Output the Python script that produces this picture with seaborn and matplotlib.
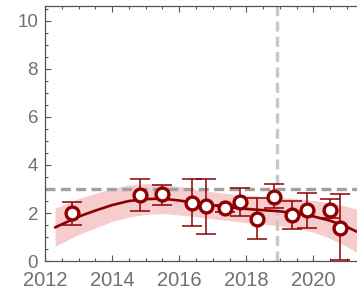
import numpy as np
import pandas as pd
import matplotlib
matplotlib.use('Agg')
import matplotlib.pyplot as plt
from matplotlib.ticker import MultipleLocator
import seaborn as sns

# measured points
years = [2012.8, 2014.84, 2015.5, 2016.39, 2016.8, 2017.37, 2017.8, 2018.33, 2018.84, 2019.37, 2019.82, 2020.5, 2020.8]
values = [2.0, 2.75, 2.8, 2.42, 2.3, 2.2, 2.45, 1.75, 2.67, 1.92, 2.12, 2.12, 1.37]
err_hi = [2.46, 3.4, 3.17, 3.42, 3.42, 2.35, 3.05, 2.62, 3.2, 2.5, 2.83, 2.6, 2.78]
err_lo = [1.5, 2.08, 2.33, 1.47, 1.12, 2.05, 1.88, 0.92, 2.2, 1.33, 1.37, 1.8, 0.05]

# fitted trend and its band
fit_years = [2012.3, 2013.0, 2013.5, 2014.0, 2014.5, 2015.0, 2015.5, 2016.0, 2016.5, 2017.0,
             2017.5, 2018.0, 2018.5, 2019.0, 2019.5, 2020.0, 2020.5, 2021.0, 2021.3]
fit_mid = [1.4, 1.85, 2.1, 2.33, 2.5, 2.58, 2.6, 2.52, 2.42, 2.32, 2.24, 2.17, 2.12, 2.07, 1.98, 1.86, 1.68, 1.42, 1.22]
fit_upper = [2.2, 2.6, 2.82, 3.02, 3.17, 3.22, 3.2, 3.1, 2.98, 2.88, 2.8, 2.74, 2.7, 2.66, 2.6, 2.52, 2.42, 2.28, 2.15]
fit_lower = [0.62, 1.1, 1.38, 1.65, 1.83, 1.94, 1.98, 1.92, 1.85, 1.76, 1.68, 1.6, 1.54, 1.47, 1.36, 1.2, 0.95, 0.6, 0.35]

threshold = 3.0
cutoff_year = 2018.92

RED = '#8e0000'
GRAY_TXT = '#707070'

sns.set_style('ticks')
plt.rcParams['font.family'] = ['Liberation Sans', 'DejaVu Sans']

df = pd.DataFrame({'year': years, 'value': values})
fit = pd.DataFrame({'year': fit_years, 'mid': fit_mid, 'lo': fit_lower, 'hi': fit_upper})

fig = plt.figure(figsize=(3.57, 2.95), dpi=100)
ax = fig.add_axes([0.126, 0.115, 0.874, 0.865])

ax.fill_between(fit['year'], fit['lo'], fit['hi'], color='#f6cccc', lw=0, zorder=1)
ax.axhline(threshold, color='#a0a0a0', lw=2.4, ls=(0, (3, 1.6)), zorder=2)
ax.axvline(cutoff_year, color='#c8c8c8', lw=2.4, ls=(0, (3, 1.6)), zorder=2)
sns.lineplot(data=fit, x='year', y='mid', color=RED, lw=1.9, ax=ax, zorder=3)

yerr = np.array([np.array(values) - np.array(err_lo), np.array(err_hi) - np.array(values)])
ax.errorbar(df['year'], df['value'], yerr=yerr, fmt='none', ecolor=RED, elinewidth=1.1,
            capsize=7, capthick=1.1, zorder=4)
sns.scatterplot(data=df, x='year', y='value', s=85, color='white', edgecolor=RED,
                linewidth=2.4, ax=ax, zorder=5)

ax.set_xlim(2012, 2021.3)
ax.set_ylim(0, 10.62)
ax.set_xlabel('')
ax.set_ylabel('')
ax.xaxis.set_major_locator(MultipleLocator(2))
ax.xaxis.set_minor_locator(MultipleLocator(0.5))
ax.yaxis.set_major_locator(MultipleLocator(2))
ax.yaxis.set_minor_locator(MultipleLocator(0.5))
ax.tick_params(which='both', direction='in', top=True, right=False, color='#555555',
               labelcolor=GRAY_TXT, width=0.8)
ax.tick_params(which='major', length=4)
ax.tick_params(which='minor', length=2)
ax.tick_params(axis='x', pad=7, labelsize=14.5)
ax.tick_params(axis='y', pad=5, labelsize=13.5)
for side in ['left', 'top', 'bottom']:
    ax.spines[side].set_color('#555555')
    ax.spines[side].set_linewidth(0.9)
ax.spines['right'].set_visible(False)

fig.savefig('out.png', dpi=100)
